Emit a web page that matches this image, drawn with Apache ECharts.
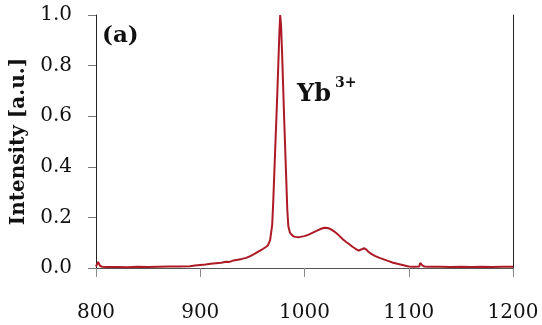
<!DOCTYPE html>
<html>
<head>
<meta charset="utf-8">
<script src="https://cdn.jsdelivr.net/npm/echarts@6/dist/echarts.min.js"></script>
<style>
  html, body { margin: 0; padding: 0; background: #ffffff; }
  #chart { width: 542px; height: 325px; }
</style>
</head>
<body>
<div id="chart"></div>
<script>
// Emission spectrum: wavelength (nm) and normalised intensity
const wavelength = [
  800, 801, 802, 803, 804, 806, 810, 820, 830, 840, 850, 860, 870, 880, 890, 895,
  900, 905, 910, 915, 920, 925, 928, 932, 936, 940, 944, 948, 952, 956, 960, 963,
  965, 966, 967, 968, 969, 970, 971, 972, 973, 974, 975, 976, 976.7, 977.5, 978.5,
  979.5, 980.5, 981.5, 982.5, 983.5, 984.5, 986, 988, 990, 993, 996, 1000, 1004,
  1008, 1012, 1016, 1019, 1022, 1025, 1028, 1031, 1034, 1037, 1040, 1043, 1046,
  1049, 1052, 1055, 1057, 1059, 1061, 1064, 1068, 1072, 1076, 1080, 1085, 1090,
  1095, 1100, 1105, 1110, 1111, 1112, 1113, 1115, 1120, 1130, 1140, 1150, 1160,
  1170, 1180, 1190, 1200
];
const intensity = [
  0.006, 0.010, 0.024, 0.020, 0.008, 0.005, 0.004, 0.004, 0.003, 0.005, 0.004, 0.005, 0.006, 0.006, 0.007, 0.010,
  0.012, 0.014, 0.017, 0.019, 0.021, 0.025, 0.024, 0.030, 0.033, 0.036, 0.040, 0.047, 0.056, 0.066, 0.075, 0.083,
  0.090, 0.096, 0.110, 0.140, 0.170, 0.260, 0.370, 0.480, 0.590, 0.700, 0.820, 0.940, 1.000, 0.960, 0.850,
  0.720, 0.590, 0.470, 0.350, 0.230, 0.165, 0.140, 0.130, 0.124, 0.122, 0.123, 0.126, 0.132,
  0.140, 0.148, 0.155, 0.159, 0.158, 0.154, 0.146, 0.136, 0.125, 0.113, 0.103, 0.094, 0.084,
  0.076, 0.069, 0.074, 0.078, 0.074, 0.065, 0.056, 0.047, 0.040, 0.034, 0.028, 0.021, 0.016,
  0.011, 0.006, 0.005, 0.006, 0.020, 0.027, 0.010, 0.006, 0.005, 0.005, 0.004, 0.005, 0.004,
  0.005, 0.004, 0.005, 0.005
];
const yTicks = [0, 0.2, 0.4, 0.6, 0.8, 1.0];
const xTicks = [800, 900, 1000, 1100, 1200];

const serif = '"DejaVu Serif", "Liberation Serif", serif';
const points = wavelength.map((w, i) => [w, intensity[i]]);

const chart = echarts.init(document.getElementById('chart'), null, { renderer: 'canvas' });
chart.setOption({
  animation: false,
  backgroundColor: '#ffffff',
  grid: { left: 96, top: 15, right: 29, bottom: 57 },
  xAxis: [{
    type: 'value',
    min: xTicks[0], max: xTicks[xTicks.length - 1], interval: 100,
    axisLine: { show: true, onZero: false, lineStyle: { color: '#8a8a8a', width: 1 } },
    axisTick: { show: true, length: 9, lineStyle: { color: '#8a8a8a' } },
    axisLabel: { margin: 35, color: '#111', fontFamily: serif, fontSize: 20,
      formatter: v => String(v) },
    splitLine: { show: false }
  }, {
    type: 'value', position: 'top',
    min: xTicks[0], max: xTicks[xTicks.length - 1],
    axisLine: { show: true, lineStyle: { color: '#555', width: 1 } },
    axisTick: { show: false }, axisLabel: { show: false }, splitLine: { show: false }
  }],
  yAxis: [{
    type: 'value',
    min: yTicks[0], max: yTicks[yTicks.length - 1], interval: 0.2,
    name: 'Intensity [a.u.]',
    nameLocation: 'middle', nameGap: 66,
    nameTextStyle: { color: '#111', fontFamily: serif, fontSize: 20, fontWeight: 'bold' },
    axisLine: { show: true, lineStyle: { color: '#222', width: 1 } },
    axisTick: { show: true, length: 8, lineStyle: { color: '#777' } },
    axisLabel: { margin: 24, color: '#111', fontFamily: serif, fontSize: 20,
      formatter: v => v.toFixed(1) },
    splitLine: { show: false }
  }, {
    type: 'value', position: 'right',
    min: yTicks[0], max: yTicks[yTicks.length - 1],
    axisLine: { show: true, lineStyle: { color: '#222', width: 1 } },
    axisTick: { show: false }, axisLabel: { show: false }, splitLine: { show: false }
  }],
  graphic: [
    { type: 'text', left: 102, top: 25,
      style: { text: '(a)', fill: '#111', font: 'bold 23px ' + serif } },
    { type: 'text', left: 297, top: 83,
      style: { text: 'Yb', fill: '#111', font: 'bold 24px ' + serif } },
    { type: 'text', left: 335, top: 76,
      style: { text: '3+', fill: '#111', font: 'bold 14px ' + serif } }
  ],
  series: [{
    type: 'line',
    data: points,
    showSymbol: false,
    lineStyle: { color: '#ad1a25', width: 2 },
    clip: true
  }]
});
</script>
</body>
</html>
